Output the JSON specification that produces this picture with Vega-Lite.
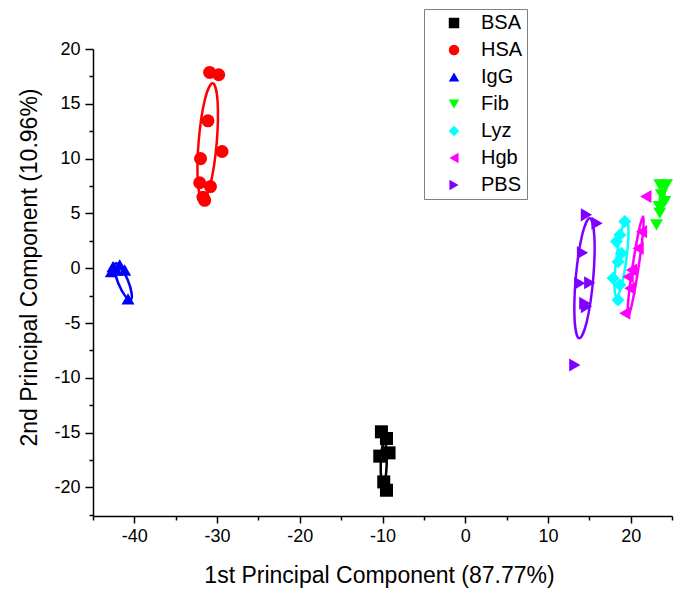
{
  "$schema": "https://vega.github.io/schema/vega-lite/v6.json",
  "width": 579,
  "height": 467,
  "autosize": {"type": "none"},
  "padding": {"left": 93, "top": 49, "right": 6, "bottom": 86},
  "background": "white",
  "config": {
    "view": {"stroke": null},
    "font": "Liberation Sans",
    "axis": {
      "grid": false,
      "domainColor": "black",
      "tickColor": "black",
      "labelColor": "black",
      "titleColor": "black",
      "domainWidth": 1.5,
      "tickWidth": 1.5,
      "labelFont": "Liberation Sans",
      "titleFont": "Liberation Sans",
      "titleFontWeight": "normal",
      "labelFontSize": 18,
      "titleFontSize": 23,
      "labelExpr": "replace(datum.label, '\u2212', '-')"
    }
  },
  "datasets": {
    "pts": [
      {"g": "BSA", "x": -10.13, "y": -14.92},
      {"g": "BSA", "x": -9.52, "y": -15.53},
      {"g": "BSA", "x": -10.33, "y": -17.14},
      {"g": "BSA", "x": -9.21, "y": -16.84},
      {"g": "BSA", "x": -9.85, "y": -19.49},
      {"g": "BSA", "x": -9.52, "y": -20.25},
      {"g": "HSA", "x": -30.9, "y": 17.86},
      {"g": "HSA", "x": -29.8, "y": 17.65},
      {"g": "HSA", "x": -31.1, "y": 13.45},
      {"g": "HSA", "x": -29.4, "y": 10.65},
      {"g": "HSA", "x": -32.0, "y": 10.0},
      {"g": "HSA", "x": -32.1, "y": 7.8},
      {"g": "HSA", "x": -30.8, "y": 7.45},
      {"g": "HSA", "x": -31.7, "y": 6.48},
      {"g": "HSA", "x": -31.5, "y": 6.2},
      {"g": "IgG", "x": -42.58, "y": 0.15},
      {"g": "IgG", "x": -41.77, "y": 0.3},
      {"g": "IgG", "x": -41.17, "y": -0.16},
      {"g": "IgG", "x": -42.78, "y": -0.31},
      {"g": "IgG", "x": -42.17, "y": -0.16},
      {"g": "IgG", "x": -40.77, "y": -2.8},
      {"g": "Fib", "x": 23.52, "y": 7.61},
      {"g": "Fib", "x": 24.33, "y": 7.61},
      {"g": "Fib", "x": 23.72, "y": 6.69},
      {"g": "Fib", "x": 24.13, "y": 6.08},
      {"g": "Fib", "x": 23.44, "y": 5.63},
      {"g": "Fib", "x": 23.52, "y": 5.02},
      {"g": "Fib", "x": 23.12, "y": 3.95},
      {"g": "Lyz", "x": 19.29, "y": 4.26},
      {"g": "Lyz", "x": 18.69, "y": 3.04},
      {"g": "Lyz", "x": 18.29, "y": 2.43},
      {"g": "Lyz", "x": 18.89, "y": 1.37},
      {"g": "Lyz", "x": 18.48, "y": 0.6},
      {"g": "Lyz", "x": 17.88, "y": -0.91},
      {"g": "Lyz", "x": 18.69, "y": -1.53},
      {"g": "Lyz", "x": 18.48, "y": -2.9},
      {"g": "Hgb", "x": 21.83, "y": 6.54},
      {"g": "Hgb", "x": 21.31, "y": 3.34},
      {"g": "Hgb", "x": 20.9, "y": 1.83},
      {"g": "Hgb", "x": 20.1, "y": -0.16},
      {"g": "Hgb", "x": 19.69, "y": -0.77},
      {"g": "Hgb", "x": 19.9, "y": -1.83},
      {"g": "Hgb", "x": 19.29, "y": -4.11},
      {"g": "PBS", "x": 14.66, "y": 4.87},
      {"g": "PBS", "x": 15.94, "y": 4.11},
      {"g": "PBS", "x": 14.18, "y": 1.42},
      {"g": "PBS", "x": 13.85, "y": -1.37},
      {"g": "PBS", "x": 15.06, "y": -1.32},
      {"g": "PBS", "x": 14.46, "y": -3.2},
      {"g": "PBS", "x": 14.66, "y": -3.5},
      {"g": "PBS", "x": 13.25, "y": -8.83}
    ],
    "ell": [
      {"g": "BSA", "i": 0, "x": -9.77, "y": -15.83},
      {"g": "BSA", "i": 1, "x": -9.54, "y": -16.42},
      {"g": "BSA", "i": 2, "x": -9.49, "y": -17.82},
      {"g": "BSA", "i": 3, "x": -9.65, "y": -19.22},
      {"g": "BSA", "i": 4, "x": -9.93, "y": -19.79},
      {"g": "BSA", "i": 5, "x": -10.16, "y": -19.2},
      {"g": "BSA", "i": 6, "x": -10.21, "y": -17.8},
      {"g": "BSA", "i": 7, "x": -10.05, "y": -16.4},
      {"g": "HSA", "i": 0, "x": -30.53, "y": 16.88},
      {"g": "HSA", "i": 1, "x": -29.94, "y": 15.27},
      {"g": "HSA", "i": 2, "x": -30.04, "y": 11.49},
      {"g": "HSA", "i": 3, "x": -30.78, "y": 7.75},
      {"g": "HSA", "i": 4, "x": -31.73, "y": 6.24},
      {"g": "HSA", "i": 5, "x": -32.32, "y": 7.85},
      {"g": "HSA", "i": 6, "x": -32.22, "y": 11.63},
      {"g": "HSA", "i": 7, "x": -31.48, "y": 15.37},
      {"g": "IgG", "i": 0, "x": -40.46, "y": -2.89},
      {"g": "IgG", "i": 1, "x": -40.33, "y": -2.28},
      {"g": "IgG", "i": 2, "x": -40.81, "y": -1.05},
      {"g": "IgG", "i": 3, "x": -41.62, "y": 0.08},
      {"g": "IgG", "i": 4, "x": -42.28, "y": 0.45},
      {"g": "IgG", "i": 5, "x": -42.41, "y": -0.16},
      {"g": "IgG", "i": 6, "x": -41.93, "y": -1.39},
      {"g": "IgG", "i": 7, "x": -41.12, "y": -2.52},
      {"g": "Fib", "i": 0, "x": 24.0, "y": 7.6},
      {"g": "Fib", "i": 1, "x": 24.12, "y": 7.22},
      {"g": "Fib", "i": 2, "x": 24.05, "y": 6.36},
      {"g": "Fib", "i": 3, "x": 23.84, "y": 5.52},
      {"g": "Fib", "i": 4, "x": 23.6, "y": 5.2},
      {"g": "Fib", "i": 5, "x": 23.48, "y": 5.58},
      {"g": "Fib", "i": 6, "x": 23.55, "y": 6.44},
      {"g": "Fib", "i": 7, "x": 23.76, "y": 7.28},
      {"g": "Lyz", "i": 0, "x": 19.49, "y": 4.41},
      {"g": "Lyz", "i": 1, "x": 19.74, "y": 3.34},
      {"g": "Lyz", "i": 2, "x": 19.49, "y": 0.85},
      {"g": "Lyz", "i": 3, "x": 18.89, "y": -1.61},
      {"g": "Lyz", "i": 4, "x": 18.29, "y": -2.59},
      {"g": "Lyz", "i": 5, "x": 18.04, "y": -1.52},
      {"g": "Lyz", "i": 6, "x": 18.29, "y": 0.97},
      {"g": "Lyz", "i": 7, "x": 18.89, "y": 3.43},
      {"g": "Hgb", "i": 0, "x": 21.51, "y": 4.72},
      {"g": "Hgb", "i": 1, "x": 21.5, "y": 3.35},
      {"g": "Hgb", "i": 2, "x": 20.96, "y": 0.11},
      {"g": "Hgb", "i": 3, "x": 20.21, "y": -3.11},
      {"g": "Hgb", "i": 4, "x": 19.69, "y": -4.42},
      {"g": "Hgb", "i": 5, "x": 19.7, "y": -3.05},
      {"g": "Hgb", "i": 6, "x": 20.24, "y": 0.19},
      {"g": "Hgb", "i": 7, "x": 20.99, "y": 3.41},
      {"g": "PBS", "i": 0, "x": 15.06, "y": 4.57},
      {"g": "PBS", "i": 1, "x": 15.61, "y": 2.91},
      {"g": "PBS", "i": 2, "x": 15.47, "y": -0.98},
      {"g": "PBS", "i": 3, "x": 14.71, "y": -4.83},
      {"g": "PBS", "i": 4, "x": 13.78, "y": -6.39},
      {"g": "PBS", "i": 5, "x": 13.23, "y": -4.74},
      {"g": "PBS", "i": 6, "x": 13.37, "y": -0.84},
      {"g": "PBS", "i": 7, "x": 14.13, "y": 3.01}
    ]
  },
  "layer": [
    {
      "data": {"name": "ell"},
      "mark": {"type": "line", "interpolate": "cardinal-closed", "strokeWidth": 2.5},
      "encoding": {
        "x": {"field": "x", "type": "quantitative", "scale": {"domain": [-45, 25], "nice": false, "zero": false}, "axis": null},
        "y": {"field": "y", "type": "quantitative", "scale": {"domain": [-22.6, 20], "nice": false, "zero": false}, "axis": null},
        "stroke": {
          "field": "g", "type": "nominal",
          "scale": {"domain": ["PBS", "Hgb", "Lyz", "Fib", "IgG", "HSA", "BSA"], "range": ["#8000ff", "#ff00ff", "#00ffff", "#00ff00", "#0000ff", "#ff0000", "#000000"]},
          "legend": null
        },
        "detail": {"field": "g"},
        "order": {"field": "i", "type": "quantitative"}
      }
    },
    {
      "data": {"name": "pts"},
      "mark": {"type": "point", "filled": true, "opacity": 1},
      "encoding": {
        "x": {
          "field": "x", "type": "quantitative",
          "scale": {"domain": [-45, 25], "nice": false, "zero": false},
          "axis": {"orient": "bottom", "values": [-40, -30, -20, -10, 0, 10, 20], "tickSize": 7, "labelPadding": 4, "title": "1st Principal Component (87.77%)", "titlePadding": 19, "titleX": 286}
        },
        "y": {
          "field": "y", "type": "quantitative",
          "scale": {"domain": [-22.6, 20], "nice": false, "zero": false},
          "axis": {"orient": "left", "values": [-20, -15, -10, -5, 0, 5, 10, 15, 20], "tickSize": 8, "labelPadding": 5, "title": "2nd Principal Component (10.96%)", "titlePadding": 12, "titleY": 218}
        },
        "size": {
          "field": "g", "type": "nominal",
          "scale": {"domain": ["PBS", "Hgb", "Lyz", "Fib", "IgG", "HSA", "BSA"], "range": [170, 170, 140, 170, 170, 130, 120]},
          "legend": null
        },
        "color": {
          "field": "g", "type": "nominal",
          "scale": {"domain": ["BSA", "HSA", "IgG", "Fib", "Lyz", "Hgb", "PBS"], "range": ["#000000", "#ff0000", "#0000ff", "#00ff00", "#00ffff", "#ff00ff", "#8000ff"]},
          "legend": {"title": null, "orient": "none", "legendX": 331, "legendY": -40, "strokeColor": "#808080", "padding": 4, "symbolOffset": 16, "labelOffset": 17, "labelFontSize": 20, "labelFont": "Liberation Sans", "labelColor": "black", "rowPadding": 7, "symbolSize": 110}
        },
        "shape": {
          "field": "g", "type": "nominal",
          "scale": {"domain": ["BSA", "HSA", "IgG", "Fib", "Lyz", "Hgb", "PBS"], "range": ["square", "circle", "triangle-up", "triangle-down", "diamond", "triangle-left", "triangle-right"]},
          "legend": {"title": null, "orient": "none", "legendX": 331, "legendY": -40, "strokeColor": "#808080", "padding": 4, "symbolOffset": 16, "labelOffset": 17, "labelFontSize": 20, "labelFont": "Liberation Sans", "labelColor": "black", "rowPadding": 7, "symbolSize": 110}
        }
      }
    },
    {
      "data": {"name": "pts"},
      "mark": {"type": "point", "opacity": 0},
      "encoding": {
        "x": {
          "field": "x", "type": "quantitative",
          "scale": {"domain": [-45, 25], "nice": false, "zero": false},
          "axis": {"orient": "bottom", "values": [-45, -35, -25, -15, -5, 5, 15, 25], "tickSize": 4, "labels": false, "domain": false, "title": null}
        },
        "y": {
          "field": "y", "type": "quantitative",
          "scale": {"domain": [-22.6, 20], "nice": false, "zero": false},
          "axis": {"orient": "left", "values": [-22.5, -17.5, -12.5, -7.5, -2.5, 2.5, 7.5, 12.5, 17.5], "tickSize": 4, "labels": false, "domain": false, "title": null}
        }
      }
    }
  ],
  "resolve": {"axis": {"x": "independent", "y": "independent"}}
}
